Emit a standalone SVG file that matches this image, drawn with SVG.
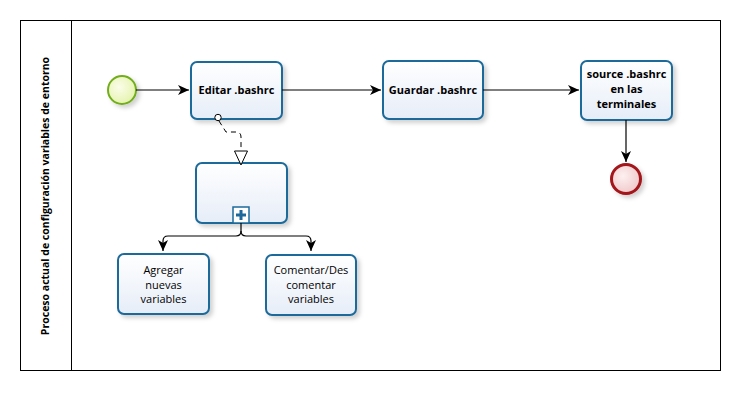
<svg xmlns="http://www.w3.org/2000/svg" width="740" height="409" viewBox="0 0 740 409">
<style>
.task{fill:url(#tg);stroke:#1d6a9a;stroke-width:2;filter:url(#sh)}
.lbl{font-family:"Open Sans","DejaVu Sans",sans-serif;font-size:11px;fill:#000;text-anchor:middle}
.b{font-weight:bold}
.con{fill:none;stroke:#000;stroke-width:1.2}
</style>
<defs>
<linearGradient id="tg" x1="0" y1="0" x2="0" y2="1"><stop offset="0" stop-color="#ffffff"/><stop offset="1" stop-color="#e6edf8"/></linearGradient>
<radialGradient id="sg" cx="0.4" cy="0.4" r="0.7"><stop offset="0" stop-color="#fbfde8"/><stop offset="1" stop-color="#e2f2a8"/></radialGradient>
<radialGradient id="eg" cx="0.4" cy="0.4" r="0.7"><stop offset="0" stop-color="#fdf0f0"/><stop offset="1" stop-color="#efc4c6"/></radialGradient>
<filter id="sh" x="-20%" y="-20%" width="150%" height="150%"><feDropShadow dx="3" dy="3" stdDeviation="2" flood-color="#000" flood-opacity="0.18"/></filter>
<marker id="ar" markerWidth="12" markerHeight="10" refX="11" refY="5" orient="auto" markerUnits="userSpaceOnUse"><path d="M0,0 L11,5 L0,10 L3,5 Z" fill="#000"/></marker>
</defs>
<rect x="0" y="0" width="740" height="409" fill="#fff"/>
<g id="pool">
<rect x="20.5" y="20.5" width="700" height="350" fill="#fff" stroke="#000" stroke-width="1"/>
<line x1="71.5" y1="20.5" x2="71.5" y2="370.5" stroke="#000" stroke-width="1"/>
<text class="lbl b" style="font-size:10.5px" transform="translate(49,196) rotate(-90)">Proceso actual de configuración variables de entorno</text>
</g>
<g id="start">
<circle cx="122" cy="90" r="14" fill="url(#sg)" stroke="#72ad1c" stroke-width="2" filter="url(#sh)"/>
</g>
<g id="editar">
<rect class="task" x="191" y="62" width="91" height="57" rx="6"/>
<text class="lbl b" x="236.5" y="94">Editar .bashrc</text>
</g>
<g id="guardar">
<rect class="task" x="383" y="61" width="100" height="58" rx="6"/>
<text class="lbl b" x="433" y="94">Guardar .bashrc</text>
</g>
<g id="source">
<rect class="task" x="581" y="61" width="91" height="59" rx="6"/>
<text class="lbl b" x="626.5" y="78">source .bashrc</text>
<text class="lbl b" x="626.5" y="93">en las</text>
<text class="lbl b" x="626.5" y="108">terminales</text>
</g>
<g id="end">
<circle cx="626" cy="179" r="14.5" fill="url(#eg)" stroke="#a3141a" stroke-width="3" filter="url(#sh)"/>
</g>
<g id="subprocess">
<rect class="task" x="196" y="163" width="91" height="60" rx="6"/>
<rect x="233" y="207" width="16" height="16" fill="#fff" stroke="#1d6a9a" stroke-width="1.5"/>
<path d="M241,210 L241,220 M236,215 L246,215" stroke="#1d6a9a" stroke-width="3"/>
</g>
<g id="agregar">
<rect class="task" x="118" y="254" width="91" height="60" rx="6"/>
<text class="lbl" x="163.5" y="274">Agregar</text>
<text class="lbl" x="163.5" y="289">nuevas</text>
<text class="lbl" x="163.5" y="303">variables</text>
</g>
<g id="comentar">
<rect class="task" x="266" y="255" width="90" height="60" rx="6"/>
<text class="lbl" x="311" y="274">Comentar/Des</text>
<text class="lbl" x="311" y="289">comentar</text>
<text class="lbl" x="311" y="303">variables</text>
</g>
<g id="connectors">
<path class="con" d="M136,90 L189,90" marker-end="url(#ar)"/>
<path class="con" d="M282,90 L381,90" marker-end="url(#ar)"/>
<path class="con" d="M483,90 L579,90" marker-end="url(#ar)"/>
<path class="con" d="M626,120 L626,162" marker-end="url(#ar)"/>
<path class="con" d="M241,223 L241,231 Q241,236 236,236 L168,236 Q163,236 163,241 L163,251" marker-end="url(#ar)"/>
<path class="con" d="M241,231 Q241,236 246,236 L306,236 Q311,236 311,241 L311,251" marker-end="url(#ar)"/>
<g id="association">
<path d="M219,121 L226,132 L236,132 Q241,132 241,137 L241,151" fill="none" stroke="#000" stroke-width="1" stroke-dasharray="5,4"/>
<circle cx="218" cy="117.5" r="3.2" fill="#fff" stroke="#000" stroke-width="1"/>
<path d="M234.5,151 L247.5,151 L241,165 Z" fill="#fff" stroke="#000" stroke-width="1"/>
</g>
</g>
</svg>
